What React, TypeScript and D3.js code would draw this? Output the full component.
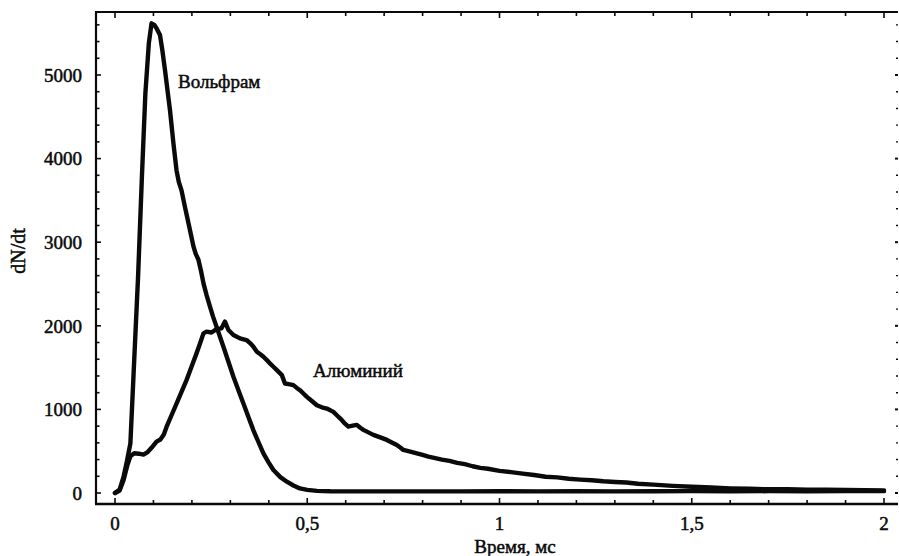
import React from 'react';
import * as d3 from 'd3';

// Tungsten (Вольфрам) curve: time (ms) and dN/dt
const tungstenT = [0, 0.012, 0.022, 0.031, 0.040, 0.048, 0.060, 0.070, 0.079, 0.088, 0.095, 0.102, 0.108, 0.117, 0.123, 0.130, 0.137, 0.143, 0.152, 0.160, 0.166, 0.173, 0.182, 0.191, 0.198, 0.204, 0.210, 0.217, 0.224, 0.230, 0.238, 0.247, 0.255, 0.264, 0.273, 0.282, 0.295, 0.308, 0.321, 0.334, 0.347, 0.360, 0.373, 0.386, 0.399, 0.412, 0.430, 0.447, 0.464, 0.481, 0.500, 0.525, 0.560, 0.600, 0.700, 0.800, 0.900, 1.000, 1.100, 1.200, 1.300, 1.400, 1.500, 1.600, 1.700, 1.800, 1.900, 2.000];
const tungstenV = [0, 40, 190, 380, 594, 1391, 2588, 3784, 4781, 5379, 5618, 5600, 5560, 5478, 5300, 5060, 4800, 4580, 4180, 3860, 3720, 3620, 3420, 3230, 3080, 2950, 2860, 2790, 2650, 2510, 2370, 2230, 2110, 1990, 1870, 1750, 1570, 1390, 1230, 1070, 910, 750, 610, 475, 370, 275, 190, 135, 90, 55, 38, 26, 21, 20, 19, 20, 20, 21, 20, 21, 20, 21, 22, 21, 22, 21, 22, 22];

// Aluminium (Алюминий) curve
const aluminumT = [0, 0.012, 0.022, 0.032, 0.040, 0.050, 0.062, 0.074, 0.085, 0.095, 0.108, 0.118, 0.127, 0.134, 0.147, 0.160, 0.173, 0.186, 0.199, 0.212, 0.222, 0.230, 0.238, 0.251, 0.264, 0.277, 0.286, 0.295, 0.308, 0.325, 0.342, 0.352, 0.360, 0.369, 0.378, 0.386, 0.395, 0.403, 0.412, 0.421, 0.434, 0.442, 0.455, 0.464, 0.472, 0.481, 0.490, 0.499, 0.512, 0.525, 0.538, 0.551, 0.568, 0.577, 0.586, 0.596, 0.607, 0.618, 0.629, 0.638, 0.646, 0.659, 0.672, 0.690, 0.707, 0.720, 0.733, 0.742, 0.750, 0.768, 0.785, 0.800, 0.815, 0.830, 0.850, 0.870, 0.890, 0.910, 0.930, 0.950, 0.970, 1.000, 1.030, 1.060, 1.090, 1.120, 1.150, 1.180, 1.210, 1.240, 1.270, 1.300, 1.330, 1.360, 1.400, 1.450, 1.500, 1.550, 1.600, 1.650, 1.700, 1.750, 1.800, 1.850, 1.900, 1.950, 2.000];
const aluminumV = [0, 30, 150, 330, 440, 475, 470, 460, 490, 540, 615, 640, 700, 790, 930, 1070, 1210, 1350, 1510, 1670, 1800, 1910, 1930, 1920, 1960, 1970, 2050, 1950, 1890, 1850, 1830, 1790, 1750, 1690, 1660, 1630, 1590, 1550, 1510, 1470, 1410, 1310, 1300, 1290, 1260, 1230, 1190, 1150, 1100, 1050, 1025, 1010, 970, 930, 890, 840, 795, 805, 815, 780, 755, 725, 695, 665, 635, 605, 575, 545, 515, 495, 475, 455, 435, 420, 400, 385, 360, 345, 320, 300, 290, 265, 250, 232, 215, 195, 187, 170, 160, 152, 140, 132, 125, 110, 100, 85, 75, 65, 55, 50, 45, 45, 40, 38, 35, 33, 30];

const xTickValues = [0, 0.5, 1, 1.5, 2];
const xTickLabels = ['0', '0,5', '1', '1,5', '2'];
const yTickValues = [0, 1000, 2000, 3000, 4000, 5000];
const yTickLabels = ['0', '1000', '2000', '3000', '4000', '5000'];
const seriesLabels = ['Вольфрам', 'Алюминий'];
const labelAnchorsT = [0.164, 0.515];
const labelAnchorsV = [4840, 1388];
const xAxisTitle = 'Время, мс';
const yAxisTitle = 'dN/dt';

export default function App() {
  const W = 899;
  const H = 556;
  const frameLeft = 96;
  const frameRight = 898;
  const frameTop = 12;
  const frameBottom = 504;

  const x = d3.scaleLinear().domain([0, 2]).range([115, 884]);
  const y = d3.scaleLinear().domain([0, 5000]).range([493, 75]);

  const line = d3
    .line<[number, number]>()
    .x((d) => x(d[0]))
    .y((d) => y(d[1]))
    .curve(d3.curveLinear);

  const tungsten: [number, number][] = tungstenT.map((t, i) => [t, tungstenV[i]]);
  const aluminum: [number, number][] = aluminumT.map((t, i) => [t, aluminumV[i]]);

  const xMinor = d3.range(0, 2.0001, 0.1);
  const yMinor = d3.range(0, 5601, 200);

  const font = "'Liberation Serif', 'Times New Roman', serif";
  const ink = '#0a0a0a';
  const textStyle = { fontFamily: font, fill: ink, stroke: ink, strokeWidth: 0.5 } as React.CSSProperties;

  return (
    <svg
      width={W}
      height={H}
      viewBox={`0 0 ${W} ${H}`}
      style={{ position: 'absolute', left: 0, top: 0, background: '#fff' }}
    >
      <rect x={0} y={0} width={W} height={H} fill="#fff" />

      {/* frame lines */}
      <line x1={frameLeft} y1={frameTop} x2={frameLeft} y2={frameBottom} stroke={ink} strokeWidth={2.2} />
      <line x1={frameLeft - 1} y1={frameBottom} x2={frameRight} y2={frameBottom} stroke={ink} strokeWidth={2.6} />
      <line x1={frameLeft - 1} y1={frameTop} x2={frameRight} y2={frameTop} stroke={ink} strokeWidth={2} />

      {/* bottom & top ticks */}
      {xMinor.map((t, i) => {
        const major = Math.abs(t * 2 - Math.round(t * 2)) < 1e-6;
        const len = major ? 6 : 4;
        return (
          <g key={'xt' + i}>
            <line x1={x(t)} x2={x(t)} y1={frameBottom} y2={frameBottom - len} stroke={ink} strokeWidth={1.6} />
            <line x1={x(t)} x2={x(t)} y1={frameTop} y2={frameTop + len} stroke={ink} strokeWidth={1.6} />
          </g>
        );
      })}

      {/* left & right ticks */}
      {yMinor.map((v, i) => {
        const major = v % 1000 === 0;
        const len = major ? 5 : 3.5;
        return (
          <g key={'yt' + i}>
            <line x1={frameLeft} x2={frameLeft + len} y1={y(v)} y2={y(v)} stroke={ink} strokeWidth={1.6} />
            <line x1={frameRight} x2={frameRight - (major ? 3 : 2)} y1={y(v)} y2={y(v)} stroke={ink} strokeWidth={major ? 2 : 1.4} />
          </g>
        );
      })}

      {/* y tick labels */}
      {yTickValues.map((v, i) => (
        <text key={'yl' + i} x={82} y={y(v)} dy="0.36em" textAnchor="end" fontSize={19} style={textStyle}>
          {yTickLabels[i]}
        </text>
      ))}

      {/* x tick labels */}
      {xTickValues.map((t, i) => (
        <text key={'xl' + i} x={x(t)} y={530} textAnchor="middle" fontSize={19} style={textStyle}>
          {xTickLabels[i]}
        </text>
      ))}

      {/* axis titles */}
      <text x={515} y={553} textAnchor="middle" fontSize={19} style={textStyle}>
        {xAxisTitle}
      </text>
      <text
        transform={`translate(25, 251) rotate(-90)`}
        textAnchor="middle"
        fontSize={20}
        style={textStyle}
      >
        {yAxisTitle}
      </text>

      {/* curves */}
      <path d={line(aluminum) || ''} fill="none" stroke={ink} strokeWidth={4.4} strokeLinejoin="round" strokeLinecap="round" />
      <path d={line(tungsten) || ''} fill="none" stroke={ink} strokeWidth={4.4} strokeLinejoin="round" strokeLinecap="round" />

      {/* series labels */}
      {seriesLabels.map((s, i) => (
        <text key={'sl' + i} x={x(labelAnchorsT[i])} y={y(labelAnchorsV[i])} fontSize={19} style={textStyle}>
          {s}
        </text>
      ))}
    </svg>
  );
}
